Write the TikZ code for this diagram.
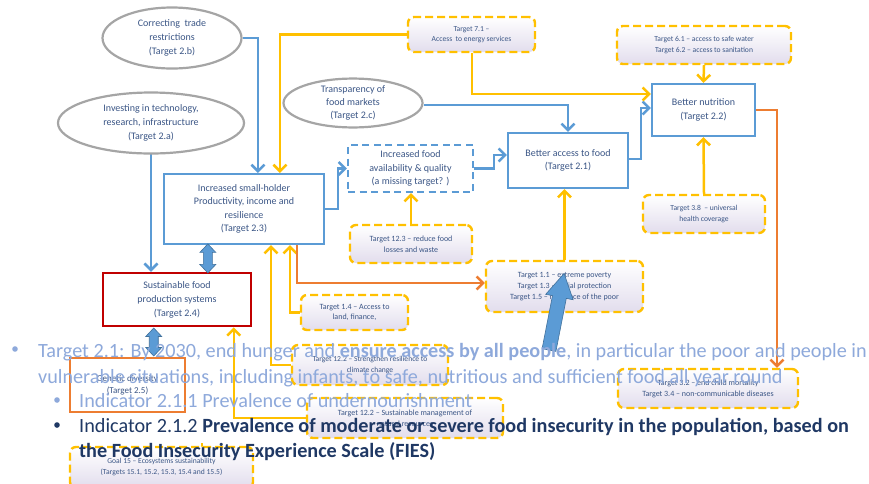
\documentclass[tikz,border=0pt]{standalone}
\usepackage{fontspec}
\setmainfont{Carlito}
\usetikzlibrary{arrows.meta,shapes.geometric,calc}

\definecolor{linkblue}{HTML}{5B9BD5}
\definecolor{linkyellow}{HTML}{FFC000}
\definecolor{linkorange}{HTML}{ED7D31}
\definecolor{ovalgray}{HTML}{A5A5A5}
\definecolor{boxred}{HTML}{C00000}
\definecolor{labelblue}{RGB}{59,86,134}
\definecolor{lavender}{RGB}{226,221,237}
\definecolor{bulletlight}{HTML}{8EA9DB}
\definecolor{bulletdark}{HTML}{1F3864}
\definecolor{arrowedge}{HTML}{41719C}

\pgfdeclarelayer{background}
\pgfsetlayers{background,main}

\tikzset{
  oval/.style={ellipse, draw=ovalgray, line width=2.2pt, fill=white, text=labelblue,
    align=center, font=\fontsize{10}{14}\selectfont, inner sep=0pt},
  goalbox/.style={rectangle, draw=linkblue, line width=2.2pt, fill=white, text=labelblue,
    align=center, font=\fontsize{10}{13.5}\selectfont, inner sep=0pt},
  linkbox/.style={rectangle, draw=linkyellow, line width=2.4pt, dash pattern=on 8pt off 4pt,
    rounded corners=6pt, top color=white, bottom color=lavender, text=labelblue,
    align=center, font=\fontsize{7.6}{11}\selectfont, inner sep=0pt},
  flow/.style={line width=2.5pt, line join=miter, -{Straight Barb[length=6.5pt,width=13pt]}},
  bflow/.style={flow, draw=linkblue},
  yflow/.style={flow, draw=linkyellow},
  oflow/.style={flow, draw=linkorange},
  fatshape/.style={fill=linkblue, draw=arrowedge, line width=0.6pt, line join=miter},
  lighttext/.style={anchor=base west, text=bulletlight, inner sep=0pt, font=\fontsize{20.2}{24}\selectfont},
  darktext/.style={anchor=base west, text=bulletdark, inner sep=0pt, font=\fontsize{20.2}{24}\selectfont},
}

\begin{document}
\begin{tikzpicture}[x=1pt,y=-1pt]
\clip (0,0) rectangle (869,483);
\begin{pgfonlayer}{background}
  \fill[white] (0,0) rectangle (869,483);
\end{pgfonlayer}

% ---- levers (ovals)
\node[oval, minimum width=139, minimum height=61] (trade) at (172,38)
  {Correcting\ \ trade\\restrictions\\(Target 2.b)};
\node[oval, minimum width=186, minimum height=61] (tech) at (151,123)
  {Investing in technology,\\research, infrastructure\\(Target 2.a)};
\node[oval, minimum width=139, minimum height=48, font=\fontsize{10}{13}\selectfont] (transp) at (353,103)
  {Transparency of\\food markets\\(Target 2.c)};

% ---- SDG 2 outcome boxes
\node[goalbox, minimum width=103, minimum height=52] (nutr) at (703.5,110)
  {Better nutrition\\(Target 2.2)};
\node[goalbox, minimum width=120, minimum height=55] (access) at (568,160.5)
  {Better access to food\\(Target 2.1)};
\node[goalbox, dash pattern=on 7pt off 4.5pt, minimum width=125, minimum height=47] (avail) at (410.5,168.5)
  {Increased food\\availability \& quality\\(a missing target? )};
\node[goalbox, minimum width=160, minimum height=70] (sh) at (244,209)
  {Increased small-holder\\Productivity, income and\\resilience\\(Target 2.3)};
\node[goalbox, draw=boxred, line width=2.5pt, minimum width=148, minimum height=53,
  font=\fontsize{10}{14}\selectfont] (sus) at (177,299.5)
  {Sustainable food\\production systems\\(Target 2.4)};
\node[goalbox, draw=linkorange, line width=2.5pt, minimum width=115, minimum height=54,
  font=\fontsize{9}{12}\selectfont] (gen) at (127.5,385)
  {Genetic diversity\\(Target 2.5)};

% ---- linked targets from other goals
\node[linkbox, minimum width=127, minimum height=35, font=\fontsize{7.6}{10}\selectfont] (e71) at (471.5,34.5)
  {Target 7.1 --\\Access\ \ to energy services};
\node[linkbox, minimum width=174, minimum height=38] (e61) at (704,45)
  {Target 6.1 -- access to safe water\\Target 6.2 -- access to sanitation};
\node[linkbox, minimum width=122, minimum height=38, font=\fontsize{8}{11}\selectfont] (t123) at (411,244)
  {Target 12.3 -- reduce food\\losses and waste};
\node[linkbox, minimum width=157, minimum height=51, font=\fontsize{8}{11}\selectfont] (t11) at (564.5,286.5)
  {Target 1.1 -- extreme poverty\\Target 1.3 -- social protection\\Target 1.5 -- resilience of the poor};
\node[linkbox, minimum width=122, minimum height=38] (t38) at (704,214)
  {Target 3.8\ \ -- universal\\health coverage};
\node[linkbox, minimum width=107, minimum height=35, font=\fontsize{8}{10.5}\selectfont] (t14) at (354.5,312.5)
  {Target 1.4 -- Access to\\land, finance,};
\node[linkbox, minimum width=156, minimum height=40] (t122a) at (370,365)
  {Target 12.2 -- Strengthen resilience to\\climate change};
\node[linkbox, minimum width=196, minimum height=40, font=\fontsize{8}{11}\selectfont] (t122b) at (405,418)
  {Target 12.2 -- Sustainable management of\\natural resources};
\node[linkbox, minimum width=183, minimum height=41] (goal15) at (161.5,467.5)
  {Goal 15 -- Ecosystems sustainability\\(Targets 15.1, 15.2, 15.3, 15.4 and 15.5)};
\node[linkbox, minimum width=180, minimum height=39, font=\fontsize{8}{11}\selectfont] (t32) at (708,388.5)
  {Target 3.2 -- end child mortality\\Target 3.4 -- non-communicable diseases};

% ---- connectors
\begin{pgfonlayer}{background}
  % blue: SDG 2 links
  \draw[bflow] (trade.east) -| ([xshift=95pt]sh.north west);
  \draw[bflow] ($(tech.center)+(-65,0)$) -- ($(tech.center)+(-65,0)$ |- gen.north);
  \draw[bflow] (tech.center) -- (tech.center |- sus.north);
  \draw[bflow] ($(tech.center)+(66,0)$) -- ($(tech.center)+(66,0)$ |- sh.north);
  \draw[bflow] ($(transp.center)+(-48,0)$) -- ($(transp.center)+(-48,0)$ |- sh.north);
  \draw[bflow] ($(transp.east)+(0,2)$) -| (access.north);
  \draw[bflow] (sh.east) -- ++(13,0) |- (avail.west);
  \draw[bflow] (avail.east) -- ++(20,0) |- ($(access.west)+(0,-5.5)$);
  \draw[bflow] ($(access.east)+(0,-1.5)$) -- ++(12,0) |- ($(nutr.west)+(0,-2)$);
  % yellow: targets of other goals
  \draw[yflow] (e71.west) -| ([xshift=117pt]sh.north west);
  \draw[yflow] ($(e71.south)+(0.5,0)$) |- ($(nutr.west)+(0,-16)$);
  \draw[yflow] (e61.south) -- (nutr.north);
  \draw[yflow] (t38.north) -- (nutr.south);
  \draw[yflow] (t11.north) -- (t11.north |- access.south);
  \draw[yflow] (t123.north) -- (t123.north |- avail.south);
  \draw[yflow] (t14.west) -| ([xshift=127pt]sh.south west);
  \draw[yflow] (t122a.west) -| ([xshift=108pt]sh.south west);
  \draw[yflow] (t122b.west) -| ([xshift=132pt]sus.south west);
  \draw[yflow] ($(goal15.north)+(40.5,0)$) -- ($(goal15.north)+(40.5,0)$ |- sus.south);
  % orange: outcomes feeding other goals
  \draw[oflow] ([xshift=134pt]sh.south west) |- ($(t11.west)+(0,-3.5)$);
  \draw[oflow] (nutr.east) -| ($(t32.north)+(69,0)$);
\end{pgfonlayer}

% ---- two-way links (block double arrows)
\coordinate (shsus) at ($([xshift=45pt]sh.south west)!0.5!([xshift=106pt]sus.north west)$);
\draw[fatshape, shift={(shsus)}] (0,-14.5) -- (8,-6) -- (4.5,-6) -- (4.5,6) -- (8,6) -- (0,14.5)
  -- (-8,6) -- (-4.5,6) -- (-4.5,-6) -- (-8,-6) -- cycle;
\coordinate (susgen) at ($([xshift=52pt]sus.south west)!0.5!([xshift=85pt]gen.north west)$);
\draw[fatshape, shift={(susgen)}] (0,-14) -- (8,-5.5) -- (4.5,-5.5) -- (4.5,5.5) -- (8,5.5) -- (0,14)
  -- (-8,5.5) -- (-4.5,5.5) -- (-4.5,-5.5) -- (-8,-5.5) -- cycle;

% ---- block arrow pointing at the poverty targets
\draw[fatshape] (555.9,351.4) -- (566.3,298.4) -- (573.1,299.7) -- (564.1,273.5)
  -- (545.7,294.3) -- (552.5,295.6) -- (542.1,348.6) -- cycle;

% ---- indicator text
\fill[bulletlight] (15,349) circle (2.8);
\node[lighttext] (line1) at (38,357)
  {Target 2.1: By 2030, end hunger and \textbf{ensure access by all people}, in particular the poor and people in};
\node[lighttext] (line2) at (38,383)
  {vulnerable situations, including infants, to safe, nutritious and sufficient food all year round};
\fill[bulletlight] (57,400) circle (2.8);
\node[lighttext] (line3) at (79,407) {Indicator 2.1.1 Prevalence of undernourishment};
\fill[bulletdark] (57,425) circle (2.8);
\node[darktext] (line4) at (79,432)
  {Indicator 2.1.2 \textbf{Prevalence of moderate or severe food insecurity in the population, based on}};
\node[darktext, font=\fontsize{20.2}{24}\bfseries] (line5) at (79,457)
  {the Food Insecurity Experience Scale (FIES)};
\end{tikzpicture}
\end{document}
